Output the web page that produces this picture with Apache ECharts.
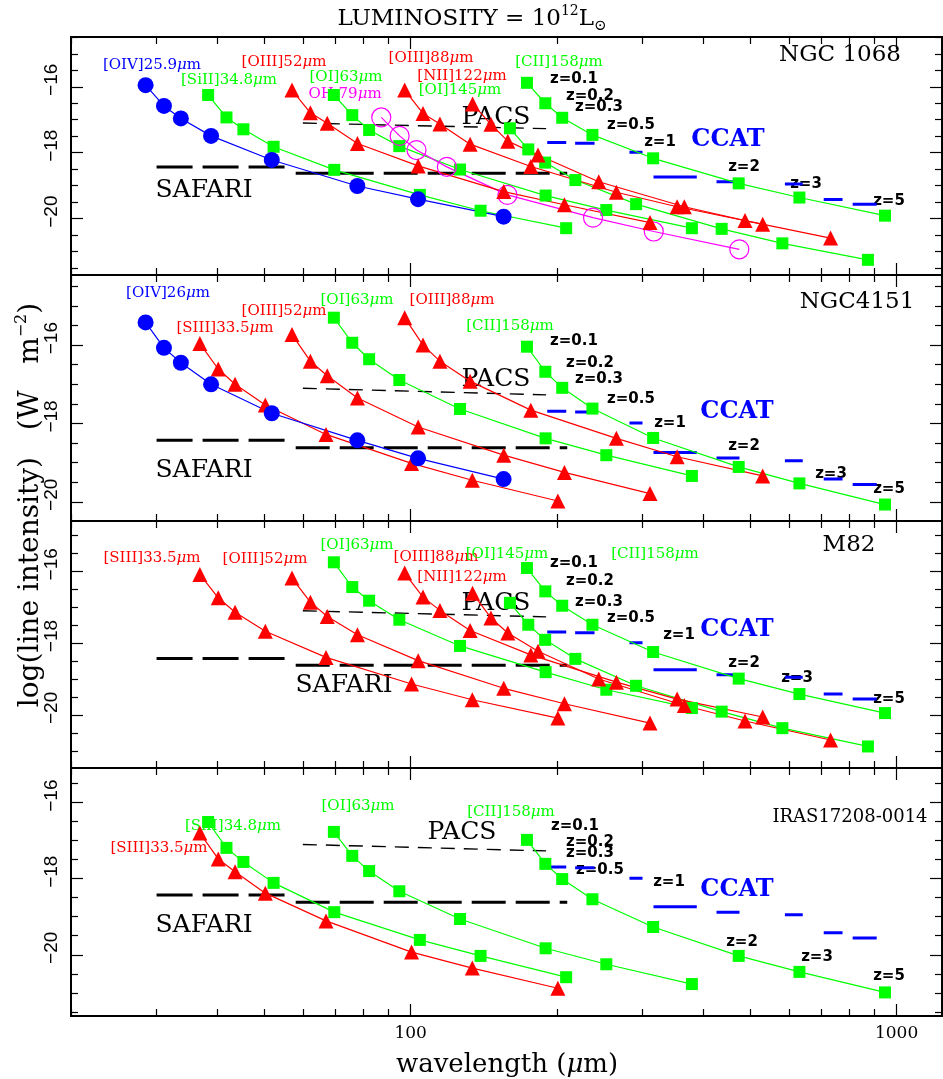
<!DOCTYPE html>
<html><head><meta charset="utf-8">
<script src="https://cdn.jsdelivr.net/npm/echarts@6.0.0/dist/echarts.min.js"></script>
<style>html,body{margin:0;padding:0;background:#fff}#c{width:943px;height:1079px}</style>
</head><body><div id="c"></div><script>
// ---------- data ----------
const zLabels = ['z=0.1','z=0.2','z=0.3','z=0.5','z=1','z=2','z=3','z=5'];
// observed wavelengths (micron) of each line at z = 0.1,0.2,0.3,0.5,1,2,3,5
const lamOIV    = [28.48, 31.07, 33.66, 38.84, 51.78, 77.67, 103.56, 155.34];
const lamSiII   = [38.30, 41.78, 45.27, 52.23, 69.64, 104.46, 139.28, 208.92];
const lamSIII   = [36.83, 40.18, 43.52, 50.22, 66.96, 100.44, 133.92, 200.88];
const lamOIII52 = [56.99, 62.17, 67.35, 77.72, 103.62, 155.43, 207.24, 310.86];
const lamOI63   = [69.50, 75.82, 82.13, 94.77, 126.36, 189.54, 252.72, 379.08];
const lamOH79   = [87.0, 94.9, 102.8, 118.7, 158.2, 237.3, 316.4, 474.6];
const lamOIII88 = [97.20, 106.03, 114.87, 132.54, 176.72, 265.08, 353.44, 530.16];
const lamNII122 = [134.09, 146.28, 158.47, 182.85, 243.80, 365.70, 487.60, 731.40];
const lamOI145  = [160.05, 174.60, 189.15, 218.25, 291.00, 436.50, 582.00, 873.00];
const lamCII158 = [173.51, 189.29, 205.06, 236.61, 315.48, 473.22, 630.96, 946.44];

// NGC 1068  log(line intensity)
const n1068OIV    = [-15.95, -16.58, -16.96, -17.49, -18.22, -19.01, -19.41, -19.94];
const n1068SiII   = [-16.25, -16.93, -17.29, -17.82, -18.52, -19.28, -19.76, -20.29];
const n1068OIII52 = [-16.10, -16.79, -17.11, -17.72, -18.40, -19.18, -19.58, -20.12];
const n1068OI63   = [-16.25, -16.86, -17.31, -17.80, -18.51, -19.30, -19.74, -20.29];
const n1068OH79   = [-16.93, -17.49, -17.92, -18.43, -19.28, -19.97, -20.39, -20.93];
const n1068OIII88 = [-16.10, -16.81, -17.13, -17.74, -18.42, -19.20, -19.64, -20.17];
const n1068NII122 = [-16.52, -17.14, -17.65, -18.07, -18.88, -19.64, -20.06, -20.59];
const n1068OI145  = [-17.26, -17.90, -18.30, -18.83, -19.56, -20.31, -20.75, -21.25];
const n1068CII158 = [-15.88, -16.50, -16.94, -17.46, -18.17, -18.93, -19.36, -19.91];
// NGC 4151
const n4151OIV    = [-15.42, -16.07, -16.45, -17.00, -17.74, -18.43, -18.89, -19.42];
const n4151SIII   = [-15.96, -16.61, -17.00, -17.53, -18.28, -19.02, -19.45, -19.98];
const n4151OIII52 = [-15.73, -16.41, -16.78, -17.35, -18.09, -18.81, -19.25, -19.79];
const n4151OI63   = [-15.30, -15.94, -16.36, -16.89, -17.63, -18.38, -18.81, -19.34];
const n4151OIII88 = [-15.30, -16.00, -16.41, -16.92, -17.66, -18.38, -18.85, -19.34];
const n4151CII158 = [-16.04, -16.68, -17.09, -17.62, -18.37, -19.11, -19.53, -20.07];
// M82
const m82SIII   = [-16.09, -16.74, -17.14, -17.67, -18.40, -19.14, -19.58, -20.09];
const m82OIII52 = [-16.19, -16.86, -17.26, -17.77, -18.49, -19.26, -19.69, -20.23];
const m82OI63   = [-15.75, -16.44, -16.82, -17.35, -18.08, -18.81, -19.30, -19.81];
const m82OIII88 = [-16.05, -16.72, -17.09, -17.65, -18.33, -19.09, -19.56, -20.06];
const m82NII122 = [-16.61, -17.30, -17.72, -18.23, -19.00, -19.74, -20.17, -20.70];
const m82OI145  = [-16.88, -17.49, -17.91, -18.44, -19.19, -19.91, -20.37, -20.88];
const m82CII158 = [-15.91, -16.56, -16.96, -17.49, -18.25, -18.99, -19.42, -19.95];
// IRAS17208-0014
const irasSiII   = [-16.51, -17.19, -17.56, -18.11, -18.88, -19.61, -20.03, -20.59];
const irasSIII   = [-16.80, -17.48, -17.82, -18.38, -19.11, -19.93, -20.35, -20.88];
const irasOI63   = [-16.77, -17.40, -17.80, -18.33, -19.06, -19.83, -20.25, -20.77];
const irasCII158 = [-16.98, -17.61, -18.01, -18.54, -19.27, -20.03, -20.45, -20.99];

// instrument sensitivity limits
const safari1Lam = [30, 55.4];  const safari1Val = [-18.43, -18.43];
const safari2Lam = [58, 210];   const safari2Val = [-18.62, -18.62];
const pacsLam    = [60, 190];   const pacsVal    = [-17.10, -17.27];
const ccatLo  = [191, 218, 282, 316, 426, 589, 708, 812];
const ccatHi  = [209, 239, 300, 388, 475, 641, 774, 910];
const ccatVal = [-17.69, -17.71, -17.99, -18.74, -18.88, -18.95, -19.42, -19.56];

// tick values
const xMajorTicks = [100, 1000];
const xMinorTicks = [20, 30, 40, 50, 60, 70, 80, 90, 200, 300, 400, 500, 600, 700, 800, 900];
const yMajorTicks = [-16, -18, -20];
const yMinorTicks = [-14.5, -15, -15.5, -16.5, -17, -17.5, -18.5, -19, -19.5, -20.5, -21, -21.5];

// ---------- layout ----------
const panels = [
  {top: 37,  bottom: 275,  ymin: -21.71, ymax: -14.49, lines: [
    ['green', lamSiII, n1068SiII], ['green', lamOI63, n1068OI63], ['green', lamOI145, n1068OI145],
    ['green', lamCII158, n1068CII158], ['oh', lamOH79, n1068OH79], ['red', lamOIII52, n1068OIII52],
    ['red', lamOIII88, n1068OIII88], ['red', lamNII122, n1068NII122], ['blue', lamOIV, n1068OIV]]},
  {top: 275, bottom: 521,  ymin: -20.49, ymax: -14.21, lines: [
    ['green', lamOI63, n4151OI63], ['green', lamCII158, n4151CII158], ['red', lamSIII, n4151SIII],
    ['red', lamOIII52, n4151OIII52], ['red', lamOIII88, n4151OIII88], ['blue', lamOIV, n4151OIV]]},
  {top: 521, bottom: 768,  ymin: -21.48, ymax: -14.60, lines: [
    ['green', lamOI63, m82OI63], ['green', lamOI145, m82OI145], ['green', lamCII158, m82CII158],
    ['red', lamSIII, m82SIII], ['red', lamOIII52, m82OIII52], ['red', lamOIII88, m82OIII88], ['red', lamNII122, m82NII122]]},
  {top: 768, bottom: 1016, ymin: -21.61, ymax: -15.09, lines: [
    ['green', lamSiII, irasSiII], ['green', lamOI63, irasOI63], ['green', lamCII158, irasCII158],
    ['red', lamSIII, irasSIII]]}
];

const styles = {
  blue:  {symbol: 'circle', size: 16, color: '#0000ff'},
  green: {symbol: 'rect', size: 12, color: '#00ff00'},
  red:   {symbol: 'triangle', size: 15, color: '#ff0000'},
  oh:    {symbol: 'circle', size: 19, color: '#ff00ff', open: true}
};

// text annotations: [text, x, y, color, kind]
const annotations = [
  // panel 1
  ['[OIV]25.9|m', 152, 65, '#0000ff', 'line'], ['[SiII]34.8|m', 229, 80, '#00ff00', 'line'],
  ['[OIII]52|m', 284, 62, '#ff0000', 'line'], ['[OI]63|m', 346, 77, '#00ff00', 'line'],
  ['OH 79|m', 345, 94, '#ff00ff', 'line'], ['[OIII]88|m', 431, 58, '#ff0000', 'line'],
  ['[NII]122|m', 462, 76, '#ff0000', 'line'], ['[OI]145|m', 460, 90, '#00ff00', 'line'],
  ['[CII]158|m', 559, 62, '#00ff00', 'line'],
  ['NGC 1068', 840, 55, '#000', 'name'], ['PACS', 496, 117, '#000', 'big'], ['SAFARI', 204, 190, '#000', 'big'],
  ['CCAT', 728, 140, '#0000ff', 'ccat'],
  // panel 2
  ['[OIV]26|m', 168, 293, '#0000ff', 'line'], ['[SIII]33.5|m', 225, 328, '#ff0000', 'line'],
  ['[OIII]52|m', 284, 311, '#ff0000', 'line'], ['[OI]63|m', 357, 300, '#00ff00', 'line'],
  ['[OIII]88|m', 452, 300, '#ff0000', 'line'], ['[CII]158|m', 510, 326, '#00ff00', 'line'],
  ['NGC4151', 857, 302, '#000', 'name'], ['PACS', 496, 379, '#000', 'big'], ['SAFARI', 204, 470, '#000', 'big'],
  ['CCAT', 737, 412, '#0000ff', 'ccat'],
  // panel 3
  ['[SIII]33.5|m', 152, 558, '#ff0000', 'line'], ['[OIII]52|m', 265, 559, '#ff0000', 'line'],
  ['[OI]63|m', 357, 545, '#00ff00', 'line'], ['[OIII]88|m', 436, 557, '#ff0000', 'line'],
  ['[OI]145|m', 507, 554, '#00ff00', 'line'], ['[NII]122|m', 462, 577, '#ff0000', 'line'],
  ['[CII]158|m', 655, 554, '#00ff00', 'line'],
  ['M82', 849, 545, '#000', 'name'], ['PACS', 496, 603, '#000', 'big'], ['SAFARI', 344, 685, '#000', 'big'],
  ['CCAT', 737, 630, '#0000ff', 'ccat'],
  // panel 4
  ['[SiII]34.8|m', 233, 826, '#00ff00', 'line'], ['[SIII]33.5|m', 159, 848, '#ff0000', 'line'],
  ['[OI]63|m', 358, 806, '#00ff00', 'line'], ['[CII]158|m', 511, 812, '#00ff00', 'line'],
  ['IRAS17208-0014', 850, 817, '#000', 'small'], ['PACS', 462, 832, '#000', 'big'], ['SAFARI', 204, 925, '#000', 'big'],
  ['CCAT', 737, 890, '#0000ff', 'ccat']
];
// z-label centres per panel (pixel)
const zPos = [
  [[574, 79], [590, 96], [599, 107], [631, 125], [660, 142], [744, 167], [806, 184], [889, 201]],
  [[574, 341], [590, 363], [599, 379], [631, 399], [670, 423], [744, 446], [831, 474], [889, 489]],
  [[574, 563], [590, 581], [599, 602], [631, 618], [679, 635], [744, 663], [797, 678], [889, 699]],
  [[575, 826], [590, 842], [590, 853], [600, 870], [669, 882], [742, 942], [817, 957], [889, 976]]
];

// ---------- build ----------
const grid = [], xAxis = [], yAxis = [], series = [], graphic = [];
const tickStyle = {color: '#000', width: 1.2};
panels.forEach((p, i) => {
  grid.push({left: 71, width: 871, top: p.top, height: p.bottom - p.top, show: false, containLabel: false});
  [['bottom', xMajorTicks, 12], ['bottom', xMinorTicks, 7], ['top', xMajorTicks, 12], ['top', xMinorTicks, 7]].forEach(([pos, ticks, len], k) => {
    const ax = {type: 'log', logBase: 10, min: 20, max: 1240, gridIndex: i, position: pos,
      axisLine: {show: true, onZero: false, lineStyle: {color: '#000', width: 2}},
      splitLine: {show: false}, minorTick: {show: false}, axisPointer: {show: false},
      axisTick: {show: true, inside: true, length: len, customValues: ticks, lineStyle: tickStyle},
      axisLabel: {show: false}};
    if (i === 3 && k === 0) {
      ax.axisLabel = {show: true, customValues: xMajorTicks, formatter: v => String(Math.round(v)),
        fontFamily: 'DejaVu Serif', fontSize: 17, color: '#000', margin: 9};
    }
    xAxis.push(ax);
  });
  [['left', yMajorTicks, 12], ['left', yMinorTicks, 7], ['right', yMajorTicks, 12], ['right', yMinorTicks, 7]].forEach(([pos, ticks, len], k) => {
    const ax = {type: 'value', min: p.ymin, max: p.ymax, gridIndex: i, position: pos,
      axisLine: {show: true, onZero: false, lineStyle: {color: '#000', width: 2}},
      splitLine: {show: false}, minorTick: {show: false},
      axisTick: {show: true, inside: true, length: len, customValues: ticks, lineStyle: tickStyle},
      axisLabel: {show: false}};
    if (k === 0) {
      ax.axisLabel = {show: true, customValues: yMajorTicks, rotate: 90, margin: 10,
        padding: [0, 0, 0, 14],
        formatter: v => (v < 0 ? '\u2212' : '') + Math.abs(Math.round(v)),
        fontFamily: 'Liberation Sans', fontSize: 19, color: '#000'};
    }
    yAxis.push(ax);
  });
  const xi = 4 * i, yi = 4 * i;
  const seg = (lams, vals, lineStyle) => series.push({type: 'line', xAxisIndex: xi, yAxisIndex: yi,
    data: lams.map((l, j) => [l, vals[j]]), symbol: 'none', lineStyle, silent: true, z: 1, animation: false});
  seg(safari1Lam, safari1Val, {color: '#000', width: 3, type: [36, 10]});
  seg(safari2Lam, safari2Val, {color: '#000', width: 3, type: [34, 10]});
  seg(pacsLam, pacsVal, {color: '#000', width: 1.4, type: [14, 9]});
  ccatLo.forEach((lo, j) => seg([lo, ccatHi[j]], [ccatVal[j], ccatVal[j]], {color: '#0000ff', width: 3, type: 'solid'}));
  p.lines.forEach(([kind, lams, vals]) => {
    const s = styles[kind];
    series.push({type: 'line', xAxisIndex: xi, yAxisIndex: yi, data: lams.map((l, j) => [l, vals[j]]),
      symbol: s.symbol, symbolSize: s.size, showSymbol: true, silent: true, animation: false, z: 3,
      lineStyle: {color: s.color, width: 1.2},
      itemStyle: s.open ? {color: 'rgba(0,0,0,0)', borderColor: s.color, borderWidth: 1.2} : {color: s.color, borderWidth: 0}});
  });
  zPos[i].forEach(([x, y], j) => graphic.push({type: 'text', x, y, z: 1, silent: true,
    style: {text: zLabels[j], fill: '#000', font: 'bold 15px "DejaVu Sans"', align: 'center', verticalAlign: 'middle'}}));
});

annotations.forEach(([t, x, y, color, kind]) => {
  let style;
  if (kind === 'line') {
    const [a, b] = t.split('|');
    style = {text: '{t|' + a + '}{i|\u03bc}{t|' + b + '}', fill: color, align: 'center', verticalAlign: 'middle',
      rich: {t: {fontFamily: 'DejaVu Serif', fontSize: 15, fill: color},
             i: {fontFamily: 'DejaVu Serif', fontSize: 15, fontStyle: 'italic', fill: color}}};
  } else if (kind === 'name') {
    style = {text: t, fill: color, font: '23px "DejaVu Serif"', align: 'center', verticalAlign: 'middle'};
  } else if (kind === 'small') {
    style = {text: t, fill: color, font: '18px "DejaVu Serif"', align: 'center', verticalAlign: 'middle'};
  } else if (kind === 'big') {
    style = {text: t, fill: color, font: '25px "DejaVu Serif"', align: 'center', verticalAlign: 'middle'};
  } else {
    style = {text: t, fill: color, font: 'bold 24px "DejaVu Serif"', align: 'center', verticalAlign: 'middle'};
  }
  graphic.push({type: 'text', x, y, z: 1, silent: true, style});
});

// title
graphic.push({type: 'text', x: 472, y: 19, silent: true, style: {
  text: '{a|LUMINOSITY = 10}{s|12}{a|L}{o|\u2299}', align: 'center', verticalAlign: 'middle', fill: '#000',
  rich: {a: {fontFamily: 'DejaVu Serif', fontSize: 23, lineHeight: 30, verticalAlign: 'middle'},
         s: {fontFamily: 'DejaVu Serif', fontSize: 14, lineHeight: 30, verticalAlign: 'top'},
         o: {fontFamily: 'DejaVu Serif', fontSize: 15, lineHeight: 30, verticalAlign: 'bottom'}}}});
// y title
graphic.push({type: 'text', x: 31, y: 505, rotation: Math.PI / 2, silent: true, style: {
  text: '{a|log(line intensity)   (W   m}{s|\u22122}{a|)}', align: 'center', verticalAlign: 'middle', fill: '#000',
  rich: {a: {fontFamily: 'DejaVu Serif', fontSize: 28, lineHeight: 34, verticalAlign: 'middle'},
         s: {fontFamily: 'DejaVu Serif', fontSize: 16, lineHeight: 34, verticalAlign: 'top'}}}});
// x title
graphic.push({type: 'text', x: 507, y: 1065, silent: true, style: {
  text: '{a|wavelength (}{i|\u03bc}{a|m)}', align: 'center', verticalAlign: 'middle', fill: '#000',
  rich: {a: {fontFamily: 'DejaVu Serif', fontSize: 26}, i: {fontFamily: 'DejaVu Serif', fontSize: 26, fontStyle: 'italic'}}}});

const chart = echarts.init(document.getElementById('c'), null, {renderer: 'canvas'});
chart.setOption({animation: false, backgroundColor: '#fff', grid, xAxis, yAxis, series, graphic});
</script></body></html>
